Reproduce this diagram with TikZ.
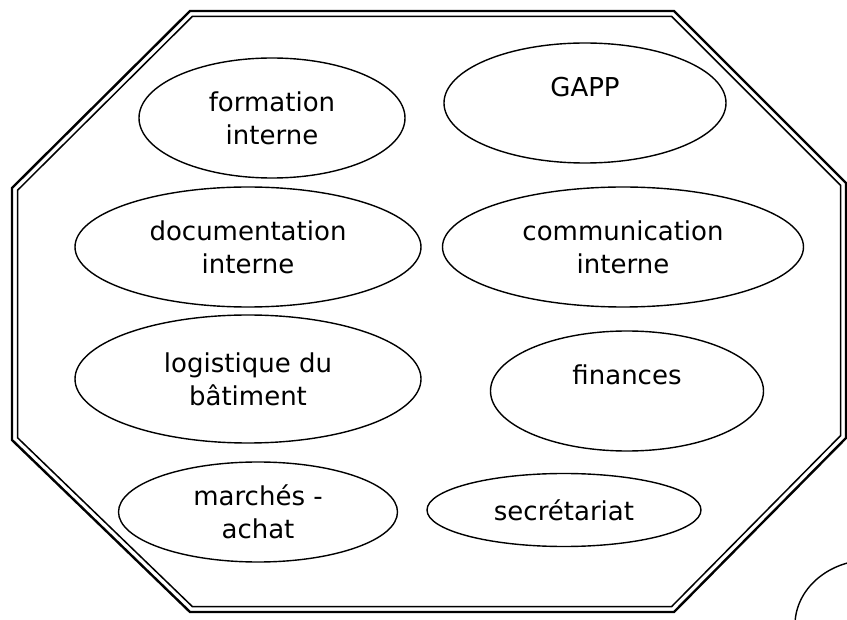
\documentclass[tikz,border=0pt]{standalone}
\usepackage{fontspec}
\setmainfont{DejaVu Sans}
\usetikzlibrary{shapes.geometric}
\tikzset{
	every node/.style={align=center},
	%
	service/.style={
		ellipse, draw, line width=1.4pt, inner sep=0pt, outer sep=0pt},
	wall/.style={line width=2.4pt, line join=miter},
	inner wall/.style={line width=1.5pt, line join=miter},
}

\begin{document}
\begin{tikzpicture}[
			x=1pt, y=-1pt,
			every node/.append style={font=\fontsize{26}{33}\selectfont},
		]
		\useasboundingbox (0,0) rectangle (847,620);
		\clip (0,0) rectangle (847,620);
		% enceinte
		\draw [wall] (190,11) -- (674,11) -- (846,183) -- (846,438)
			-- (674,612) -- (190,612) -- (12,440) -- (12,188) -- cycle;
		\draw [inner wall] (192.3,16.5) -- (671.7,16.5) -- (840.5,185.3)
			-- (840.5,435.7) -- (671.7,606.5) -- (192.3,606.5)
			-- (17.5,437.7) -- (17.5,190.3) -- cycle;
		%
		\node (formation) [service, minimum width=266, minimum height=120]
			at (272,118) {formation\\interne};
		\node (gapp) [service, minimum width=282, minimum height=120]
			at (585,103) {GAPP\\\mbox{}};
		\node (documentation) [service, minimum width=346, minimum height=120]
			at (248,247) {documentation\\interne};
		\node (communication) [service, minimum width=361, minimum height=120]
			at (623,247) {communication\\interne};
		\node (logistique) [service, minimum width=346, minimum height=128]
			at (248,379) {logistique du\\bâtiment};
		\node (finances) [service, minimum width=273, minimum height=120]
			at (627,391) {finances\\\mbox{}};
		\node (marches) [service, minimum width=279, minimum height=100]
			at (258,512) {marchés -\\achat};
		\node (secretariat) [service, minimum width=274, minimum height=73]
			at (564,510) {secrétariat};
		\node (autre) [service, minimum width=150, minimum height=130]
			at (870,625) {};
	\end{tikzpicture}
\end{document}
